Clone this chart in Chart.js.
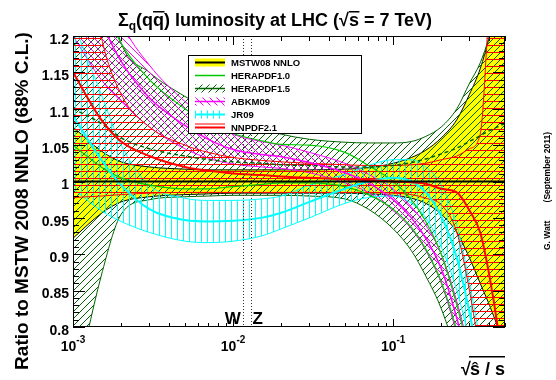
<!DOCTYPE html>
<html>
<head>
<meta charset="utf-8">
<script src="https://cdn.jsdelivr.net/npm/chart.js@4.4.0/dist/chart.umd.min.js"></script>
<style>html,body{margin:0;padding:0;background:#fff}</style>
</head>
<body>
<canvas id="lumi" width="556" height="380"></canvas>
<script>
// sqrt(shat/s) points shared by every PDF set
const xVals = [0.001, 0.0015, 0.002, 0.003, 0.005, 0.007, 0.01, 0.015, 0.02, 0.03, 0.05, 0.07, 0.1, 0.13, 0.16, 0.2, 0.25, 0.3, 0.35, 0.4, 0.45, 0.5];

// ratios to MSTW 2008 NNLO
const mstwLo = [0.922, 0.956, 0.972, 0.979, 0.982, 0.983, 0.984, 0.984, 0.984, 0.984, 0.984, 0.983, 0.981, 0.977, 0.97, 0.955, 0.93, 0.895, 0.86, 0.83, 0.80, 0.77];
const mstwHi = [1.075, 1.042, 1.027, 1.02, 1.017, 1.016, 1.016, 1.016, 1.016, 1.016, 1.017, 1.019, 1.025, 1.033, 1.043, 1.06, 1.085, 1.12, 1.155, 1.2, 1.25, 1.3];
const mstwC = [1, 1, 1, 1, 1, 1, 1, 1, 1, 1, 1, 1, 1, 1, 1, 1, 1, 1, 1, 1, 1, 1];

const hera15Lo = [0.70, 0.87, 0.955, 0.975, 0.979, 0.980, 0.981, 0.981, 0.981, 0.980, 0.976, 0.962, 0.935, 0.905, 0.87, 0.825, 0.76, 0.69, 0.62, 0.55, 0.48, 0.40];
const hera15Hi = [1.45, 1.30, 1.19, 1.15, 1.117, 1.100, 1.085, 1.072, 1.065, 1.058, 1.054, 1.053, 1.053, 1.055, 1.062, 1.075, 1.10, 1.135, 1.163, 1.20, 1.24, 1.29];
const hera15C = [1.10, 1.08, 1.06, 1.045, 1.035, 1.03, 1.027, 1.025, 1.023, 1.022, 1.02, 1.02, 1.022, 1.026, 1.031, 1.038, 1.046, 1.055, 1.063, 1.07, 1.075, 1.08];

const hera10Lo = [1.05, 1.02, 1.005, 0.995, 0.99, 0.99, 0.993, 0.996, 0.998, 0.998, 0.993, 0.982, 0.962, 0.937, 0.907, 0.862, 0.795, 0.725, 0.65, 0.58, 0.51, 0.44];
const hera10Hi = [1.35, 1.25, 1.19, 1.14, 1.10, 1.08, 1.066, 1.056, 1.051, 1.05, 1.04, 1.022, 1.0, 0.975, 0.945, 0.90, 0.83, 0.76, 0.69, 0.62, 0.55, 0.48];

const abkmLo = [1.20, 1.14, 1.11, 1.075, 1.045, 1.032, 1.024, 1.02, 1.018, 1.012, 0.998, 0.985, 0.96, 0.935, 0.905, 0.86, 0.79, 0.72, 0.65, 0.58, 0.51, 0.44];
const abkmHi = [1.45, 1.30, 1.22, 1.16, 1.11, 1.085, 1.065, 1.055, 1.05, 1.04, 1.025, 1.01, 0.99, 0.965, 0.94, 0.90, 0.835, 0.765, 0.69, 0.62, 0.55, 0.48];
const abkmC = [1.32, 1.22, 1.165, 1.115, 1.077, 1.058, 1.044, 1.037, 1.034, 1.026, 1.012, 0.998, 0.975, 0.95, 0.922, 0.88, 0.812, 0.742, 0.67, 0.60, 0.53, 0.46];

const jrLo = [0.99, 0.96, 0.945, 0.93, 0.918, 0.916, 0.918, 0.925, 0.935, 0.95, 0.97, 0.978, 0.98, 0.97, 0.95, 0.91, 0.85, 0.78, 0.70, 0.62, 0.55, 0.48];
const jrHi = [1.22, 1.12, 1.05, 0.995, 0.977, 0.974, 0.974, 0.976, 0.98, 0.995, 1.01, 1.022, 1.03, 1.03, 1.02, 0.995, 0.94, 0.86, 0.78, 0.70, 0.62, 0.55];
const jrC = [1.09, 1.03, 0.995, 0.962, 0.947, 0.945, 0.946, 0.95, 0.957, 0.972, 0.99, 1.0, 1.005, 1.0, 0.985, 0.952, 0.895, 0.82, 0.74, 0.66, 0.58, 0.51];

const nnLo = [0.978, 0.98, 0.982, 0.984, 0.985, 0.985, 0.985, 0.985, 0.985, 0.985, 0.985, 0.985, 0.984, 0.982, 0.977, 0.968, 0.93, 0.85, 0.76, 0.67, 0.58, 0.50];
const nnHi = [1.45, 1.2, 1.12, 1.075, 1.05, 1.04, 1.033, 1.029, 1.027, 1.025, 1.023, 1.022, 1.022, 1.023, 1.025, 1.03, 1.035, 1.045, 1.065, 1.25, 1.40, 1.50];
const nnC = [1.15, 1.085, 1.055, 1.035, 1.02, 1.015, 1.011, 1.009, 1.007, 1.005, 1.003, 1.002, 1.0, 0.999, 0.997, 0.99, 0.985, 0.96, 0.93, 0.87, 0.80, 0.72];

const yTicks = [0.8, 0.85, 0.9, 0.95, 1, 1.05, 1.1, 1.15, 1.2];
const xDecades = [-3, -2, -1];
const wzLines = [['W', 0.01149], ['Z', 0.01303]];
const legendNames = ['MSTW08 NNLO', 'HERAPDF1.0', 'HERAPDF1.5', 'ABKM09', 'JR09', 'NNPDF2.1'];

const DKGREEN = '#006400', GREEN = '#00c800', MAGENTA = '#ff00ff', CYAN = '#00ffff', RED = '#ff0000';
const FONT = '"Liberation Sans", Arial, sans-serif';

// hatch tiles like the ROOT fill styles
function hatchCanvas(color, kind, size) {
  const c = document.createElement('canvas');
  c.width = size; c.height = size;
  const g = c.getContext('2d');
  g.strokeStyle = color;
  g.lineWidth = 1;
  g.beginPath();
  if (kind === '/') {
    g.moveTo(0, size); g.lineTo(size, 0);
    g.moveTo(-1, 1); g.lineTo(1, -1);
    g.moveTo(size - 1, size + 1); g.lineTo(size + 1, size - 1);
  } else if (kind === '\\') {
    g.moveTo(0, 0); g.lineTo(size, size);
    g.moveTo(size - 1, -1); g.lineTo(size + 1, 1);
    g.moveTo(-1, size - 1); g.lineTo(1, size + 1);
  } else if (kind === '|') {
    g.moveTo(Math.floor(size / 2) + 0.5, 0); g.lineTo(Math.floor(size / 2) + 0.5, size);
  } else {
    g.moveTo(0, Math.floor(size / 2) + 0.5); g.lineTo(size, Math.floor(size / 2) + 0.5);
  }
  g.stroke();
  return c;
}

const ctx0 = document.getElementById('lumi').getContext('2d');
const patGreen = ctx0.createPattern(hatchCanvas(DKGREEN, '/', 7), 'repeat');
const patMagenta = ctx0.createPattern(hatchCanvas(MAGENTA, '\\', 7), 'repeat');
const patCyan = ctx0.createPattern(hatchCanvas(CYAN, '|', 6), 'repeat');
const patRed = ctx0.createPattern(hatchCanvas(RED, '-', 7), 'repeat');

const pts = arr => arr.map((y, i) => ({x: xVals[i], y: y}));

function line(arr, color, width, order, dash) {
  return {data: pts(arr), borderColor: color, borderWidth: width, fill: false, order: order, borderDash: dash || [], clip: 0};
}

function band(lo, hi, edge, fillStyle, order) {
  const a = line(lo, edge, 1, order);
  const b = line(hi, edge, 1, order);
  b.fill = '-1';
  b.backgroundColor = fillStyle;
  return [a, b];
}

const datasets = [].concat(
  band(mstwLo, mstwHi, '#000', '#ffff00', 20),
  band(hera15Lo, hera15Hi, DKGREEN, patGreen, 18),
  band(abkmLo, abkmHi, MAGENTA, patMagenta, 16),
  band(jrLo, jrHi, CYAN, patCyan, 14),
  band(nnLo, nnHi, RED, patRed, 12),
  [line(hera10Lo, GREEN, 1.2, 10), line(hera10Hi, GREEN, 1.2, 10)],
  [line(hera15C, DKGREEN, 1.5, 8, [4, 3]),
   line(abkmC, MAGENTA, 1.5, 7),
   line(jrC, CYAN, 2, 6),
   line(nnC, RED, 2, 5),
   line(mstwC, '#000', 2, 4)]
);

function textW(ctx, s, font) { ctx.font = font; return ctx.measureText(s).width; }

const decor = {
  id: 'decor',
  afterDraw(chart) {
    const {ctx, chartArea: a, scales: {x, y}} = chart;
    ctx.save();
    ctx.fillStyle = '#000';

    // W and Z masses
    ctx.lineWidth = 1;
    ctx.setLineDash([1, 2]);
    ctx.strokeStyle = '#333';
    wzLines.forEach(([n, v]) => {
      const px = Math.round(x.getPixelForValue(v)) + 0.5;
      ctx.beginPath(); ctx.moveTo(px, a.top); ctx.lineTo(px, a.bottom); ctx.stroke();
    });
    ctx.setLineDash([]);
    ctx.strokeStyle = '#000';
    ctx.font = 'bold 17px ' + FONT;
    ctx.textBaseline = 'alphabetic';
    ctx.textAlign = 'right';
    ctx.fillText(wzLines[0][0], x.getPixelForValue(wzLines[0][1]) - 2, a.bottom - 3);
    ctx.textAlign = 'left';
    ctx.fillText(wzLines[1][0], x.getPixelForValue(wzLines[1][1]) + 1, a.bottom - 3);

    // frame and ticks
    ctx.lineWidth = 1;
    ctx.strokeRect(a.left + 0.5, a.top + 0.5, a.right - a.left - 1, a.bottom - a.top - 1);
    ctx.beginPath();
    for (let i = 80; i <= 120; i++) {
      const py = Math.round(y.getPixelForValue(i / 100)) + 0.5;
      const len = i % 5 === 0 ? 12 : 6;
      ctx.moveTo(a.left, py); ctx.lineTo(a.left + len, py);
      ctx.moveTo(a.right, py); ctx.lineTo(a.right - len, py);
    }
    xDecades.forEach(d => {
      for (let m = 1; m <= 9; m++) {
        const v = m * Math.pow(10, d);
        if (v > x.max + 1e-9) break;
        const px = Math.round(x.getPixelForValue(v)) + 0.5;
        const big = m === 1;
        ctx.moveTo(px, a.bottom); ctx.lineTo(px, a.bottom - (big ? 8 : 4));
        ctx.moveTo(px, a.top); ctx.lineTo(px, a.top + (big ? 9 : 5));
      }
    });
    ctx.stroke();

    // tick labels
    ctx.textAlign = 'right';
    ctx.textBaseline = 'middle';
    ctx.font = 'bold 14px ' + FONT;
    yTicks.forEach(v => ctx.fillText(String(v), a.left - 4, y.getPixelForValue(v) + 4));
    ctx.textAlign = 'left';
    ctx.textBaseline = 'alphabetic';
    xDecades.forEach(d => {
      const px = x.getPixelForValue(Math.pow(10, d));
      const f1 = 'bold 14px ' + FONT, f2 = 'bold 10px ' + FONT;
      const w1 = textW(ctx, '10', f1), w2 = textW(ctx, String(d), f2);
      const x0 = px - (w1 + w2) / 2;
      ctx.font = f1; ctx.fillText('10', x0, a.bottom + 24);
      ctx.font = f2; ctx.fillText(String(d), x0 + w1, a.bottom + 16);
    });

    // title
    const big = 'bold 18px ' + FONT, sub = 'bold 12px ' + FONT;
    const parts = [['\u03A3', big, 0], ['q', sub, 4], ['(q', big, 0], ['q', big, 0, 'bar'], [') luminosity at LHC (', big, 0],
      ['\u221A', big, 0], ['s', big, 0, 'bar'], [' = 7 TeV)', big, 0]];
    let tw = 0;
    parts.forEach(p => { p.w = textW(ctx, p[0], p[1]); tw += p.w; });
    let tx = 275 - tw / 2;
    const tb = 26;
    parts.forEach(p => {
      ctx.font = p[1];
      ctx.fillText(p[0], tx, tb + p[2]);
      if (p[3]) { ctx.fillRect(tx, tb - 15, p.w + 0.5, 1.5); }
      tx += p.w;
    });

    // axis titles
    ctx.save();
    ctx.translate(23, 201);
    ctx.rotate(-Math.PI / 2);
    ctx.textAlign = 'center';
    ctx.textBaseline = 'middle';
    ctx.font = 'bold 19px ' + FONT;
    ctx.fillText('Ratio to MSTW 2008 NNLO (68% C.L.)', 0, 0);
    ctx.restore();

    ctx.font = big;
    const sw = textW(ctx, '\u015D / s', big), rw = textW(ctx, '\u221A', big);
    const sx = a.right - sw;
    ctx.textAlign = 'left';
    ctx.fillText('\u015D / s', sx, 375);
    ctx.fillText('\u221A', sx - rw + 1, 375);
    ctx.fillRect(sx - 1, 356, sw + 1, 1.5);

    ctx.save();
    ctx.translate(548, 0);
    ctx.rotate(-Math.PI / 2);
    ctx.font = 'bold 8.5px ' + FONT;
    ctx.textBaseline = 'middle';
    ctx.textAlign = 'left';
    ctx.fillText('G. Watt', -250, 0);
    ctx.textAlign = 'right';
    ctx.fillText('(September 2011)', -132, 0);
    ctx.restore();

    // legend box
    const lx = 188, ly = 55, lw = 173, lh = 78;
    ctx.fillStyle = '#fff';
    ctx.fillRect(lx, ly, lw, lh);
    ctx.strokeStyle = '#000';
    ctx.lineWidth = 1;
    ctx.strokeRect(lx + 0.5, ly + 0.5, lw, lh);
    const sym = [
      ['#ffff00', null, '#000', 2],
      [null, null, GREEN, 1.5],
      [patGreen, null, DKGREEN, 1.5],
      [patMagenta, null, MAGENTA, 1.5],
      [patCyan, null, CYAN, 2],
      [null, 'double', RED, 2]
    ];
    legendNames.forEach((n, i) => {
      const cy = ly + 7.5 + i * 13;
      const s = sym[i];
      if (s[0]) { ctx.fillStyle = s[0]; ctx.fillRect(195, cy - 4, 30, 8); }
      ctx.strokeStyle = s[2];
      ctx.lineWidth = s[3];
      ctx.beginPath(); ctx.moveTo(195, cy); ctx.lineTo(225, cy); ctx.stroke();
      if (s[1]) {
        ctx.lineWidth = 1;
        ctx.beginPath(); ctx.moveTo(195, cy - 3.5); ctx.lineTo(225, cy - 3.5); ctx.stroke();
      }
      ctx.fillStyle = '#000';
      ctx.font = 'bold 9.5px ' + FONT;
      ctx.textAlign = 'left';
      ctx.textBaseline = 'middle';
      ctx.fillText(n, 231, cy + 0.5);
    });
    ctx.restore();
  }
};

new Chart(ctx0, {
  type: 'line',
  data: {datasets: datasets},
  options: {
    responsive: false,
    animation: false,
    devicePixelRatio: 1,
    layout: {padding: {left: 73, right: 51, top: 36, bottom: 53}},
    elements: {point: {radius: 0}, line: {cubicInterpolationMode: 'monotone'}},
    plugins: {legend: {display: false}, tooltip: {enabled: false}, title: {display: false}},
    scales: {
      x: {type: 'logarithmic', min: 0.001, max: 0.5, display: false},
      y: {type: 'linear', min: 0.8, max: 1.2, display: false}
    }
  },
  plugins: [decor]
});
</script>
</body>
</html>
